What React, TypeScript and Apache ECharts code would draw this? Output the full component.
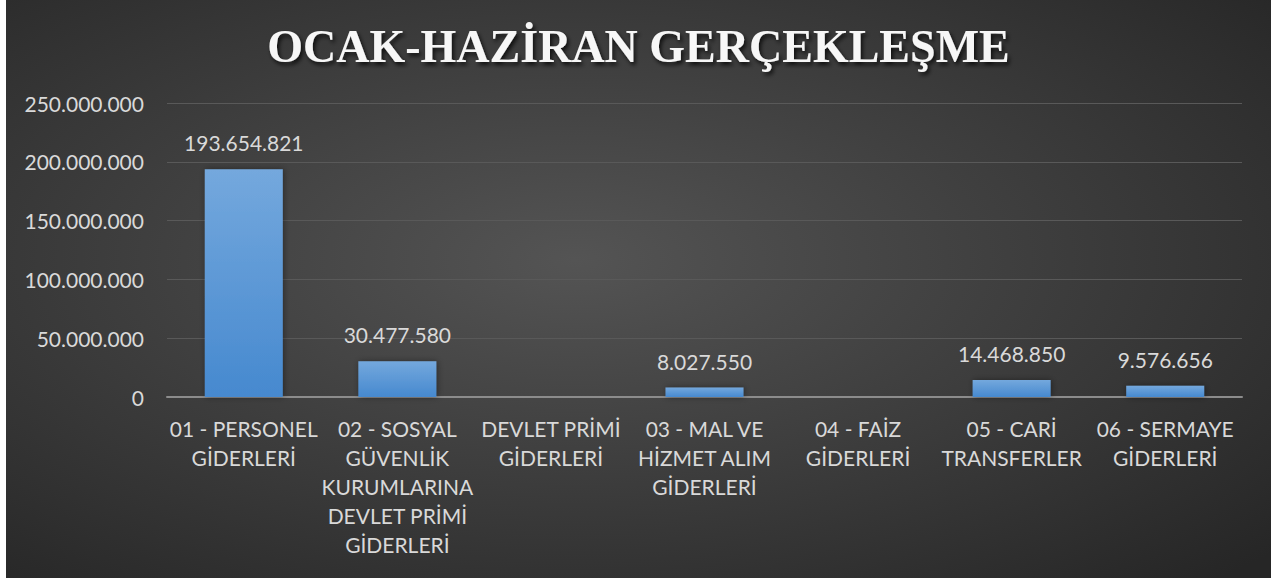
import React, { useEffect, useRef } from "react";
import * as echarts from "echarts";

const titleText = "OCAK-HAZİRAN GERÇEKLEŞME";
const categories = [
  "01 - PERSONEL\nGİDERLERİ",
  "02 - SOSYAL\nGÜVENLİK\nKURUMLARINA\nDEVLET PRİMİ\nGİDERLERİ",
  "DEVLET PRİMİ\nGİDERLERİ",
  "03 - MAL VE\nHİZMET ALIM\nGİDERLERİ",
  "04 - FAİZ\nGİDERLERİ",
  "05 - CARİ\nTRANSFERLER",
  "06 - SERMAYE\nGİDERLERİ",
];
const values: (number | null)[] = [193654821, 30477580, null, 8027550, null, 14468850, 9576656];
const yMin = 0;
const yMax = 250000000;
const yInterval = 50000000;

const fmt = (v: number) => String(Math.round(v)).replace(/\B(?=(\d{3})+(?!\d))/g, ".");

export default function App() {
  const ref = useRef<HTMLDivElement>(null);
  useEffect(() => {
    if (!ref.current) return;
    const chart = echarts.init(ref.current, undefined, { renderer: "svg" });
    const labelFont = "Lato";
    chart.setOption({
      animation: false,
      backgroundColor: {
        type: "radial",
        x: 0.45,
        y: 0.45,
        r: 0.75,
        colorStops: [
          { offset: 0, color: "#545454" },
          { offset: 1, color: "#262626" },
        ],
      },
      title: {
        text: titleText,
        left: "center",
        top: 18,
        textStyle: {
          fontFamily: "Liberation Serif",
          fontWeight: "bold",
          fontSize: 46,
          color: "#f7f7f7",
          textShadowColor: "rgba(0,0,0,0.75)",
          textShadowBlur: 4,
          textShadowOffsetX: 2,
          textShadowOffsetY: 3,
        },
      },
      grid: { left: 161, right: 29, top: 103, bottom: 181, containLabel: false, outerBoundsMode: "none" },
      xAxis: {
        type: "category",
        data: categories,
        axisLine: { lineStyle: { color: "#8c8c8c", width: 2 } },
        axisTick: { show: false },
        axisLabel: {
          interval: 0,
          color: "#d9d9d9",
          fontFamily: labelFont,
          fontSize: 21,
          lineHeight: 29,
          margin: 17,
        },
      },
      yAxis: {
        type: "value",
        min: yMin,
        max: yMax,
        interval: yInterval,
        axisLine: { show: false },
        axisTick: { show: false },
        splitLine: { lineStyle: { color: "#595959", width: 1 } },
        axisLabel: {
          color: "#d9d9d9",
          fontFamily: labelFont,
          fontSize: 21,
          margin: 23,
          formatter: (v: number) => fmt(v),
        },
      },
      series: [
        {
          type: "bar",
          data: values,
          barWidth: 78,
          itemStyle: {
            color: {
              type: "linear",
              x: 0,
              y: 0,
              x2: 0,
              y2: 1,
              colorStops: [
                { offset: 0, color: "#74a8dd" },
                { offset: 1, color: "#4689cf" },
              ],
            },
            shadowColor: "rgba(0,0,0,0.4)",
            shadowBlur: 6,
            shadowOffsetX: 1,
          },
          label: {
            show: true,
            position: "top",
            distance: 16,
            color: "#d9d9d9",
            fontFamily: labelFont,
            fontSize: 21,
            formatter: (p: any) => fmt(p.value),
          },
        },
      ],
    });
    return () => chart.dispose();
  }, []);
  return (
    <div style={{ position: "fixed", left: 0, top: 0, width: 1271, height: 578, background: "#ffffff" }}>
      <div ref={ref} style={{ position: "absolute", left: 6, top: 0, width: 1265, height: 578 }} />
    </div>
  );
}
